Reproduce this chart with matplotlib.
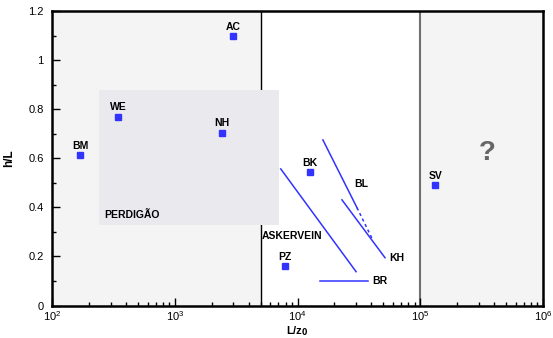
import matplotlib.pyplot as plt

plt.rcParams['font.family'] = ['Liberation Sans', 'DejaVu Sans']

# ==============================
# Data
# ==============================

site_names = ["BM", "WE", "NH", "AC", "BK", "PZ", "SV"]
site_lz = [170, 345, 2430, 3000, 12600, 7900, 132000]
site_hl = [0.615, 0.77, 0.705, 1.10, 0.545, 0.16, 0.492]

# line sites: (x start, x end), (y start, y end)
askervein_x = [7300, 30000]
askervein_y = [0.557, 0.138]
bl_x = [16100, 30500]
bl_y = [0.675, 0.399]
bl_dash_x = [30500, 40500]
bl_dash_y = [0.399, 0.273]
kh_x = [23000, 51600]
kh_y = [0.431, 0.195]
br_x = [15300, 37500]
br_y = [0.10, 0.10]

perdigao_x = [240, 7050]
perdigao_y = [0.33, 0.88]

blue = "#3333ff"

# ==============================
# Plot
# ==============================

fig = plt.figure(figsize=(5.53, 3.38), dpi=100)
ax = fig.add_axes([0.094, 0.096, 0.888, 0.871])

ax.set_xscale("log")
ax.set_xlim(1e2, 1e6)
ax.set_ylim(0, 1.2)

# regions
ax.axvspan(1e2, 5000, color="#f4f4f4", zorder=0)
ax.axvspan(1e5, 1e6, color="#f4f4f4", zorder=0)
ax.axvline(5000, color="black", lw=1.0, zorder=1)
ax.axvline(1e5, color="#707070", lw=1.5, zorder=1)
ax.fill_between(perdigao_x, perdigao_y[0], perdigao_y[1], color="#e9e9ee", lw=0, zorder=2)

# lines
ax.plot(askervein_x, askervein_y, color=blue, lw=1.1, zorder=3)
ax.plot(bl_x, bl_y, color=blue, lw=1.1, zorder=3)
ax.plot(bl_dash_x, bl_dash_y, color=blue, lw=1.1, ls=(0, (2, 2)), zorder=3)
ax.plot(kh_x, kh_y, color=blue, lw=1.1, zorder=3)
ax.plot(br_x, br_y, color=blue, lw=1.1, zorder=3)

# points
ax.plot(site_lz, site_hl, "s", color=blue, ms=3.8, zorder=4, lw=0)
for name, x, y in zip(site_names, site_lz, site_hl):
    ax.annotate(name, (x, y), xytext=(0, 3), textcoords="offset points",
                ha="center", va="bottom", fontsize=7.5, fontweight="bold")

txt = dict(fontsize=7.5, fontweight="bold")
ax.text(33000, 0.495, "BL", ha="center", va="center", **txt)
ax.text(56000, 0.195, "KH", ha="left", va="center", **txt)
ax.text(41000, 0.10, "BR", ha="left", va="center", **txt)
ax.text(5100, 0.285, "ASKERVEIN", ha="left", va="center", **txt)
ax.text(265, 0.37, "PERDIGÃO", ha="left", va="center", **txt)
ax.text(3.5e5, 0.62, "?", ha="center", va="center", fontsize=20,
        fontweight="bold", color="#666666")

# axes styling
ax.set_xlabel("L/z$_\\mathbf{0}$", fontsize=8, fontweight="bold")
ax.xaxis.set_label_coords(0.5, -0.063)
ax.set_ylabel("h/L", fontsize=8.5, fontweight="bold")
ax.yaxis.set_label_coords(-0.075, 0.5)
ax.set_yticks([0, 0.2, 0.4, 0.6, 0.8, 1.0, 1.2])
ax.set_yticklabels(["0", "0.2", "0.4", "0.6", "0.8", "1", "1.2"])
ax.set_yticks([0.1, 0.3, 0.5, 0.7, 0.9, 1.1], minor=True)
ax.tick_params(which="both", direction="in", labelsize=8, width=1)
ax.tick_params(which="major", length=6)
ax.tick_params(which="minor", length=3)
ax.tick_params(axis="x", pad=2.5)
ax.tick_params(axis="y", pad=6)
for s in ax.spines.values():
    s.set_linewidth(1.8)
    s.set_zorder(5)

plt.savefig("out.png", dpi=100)
